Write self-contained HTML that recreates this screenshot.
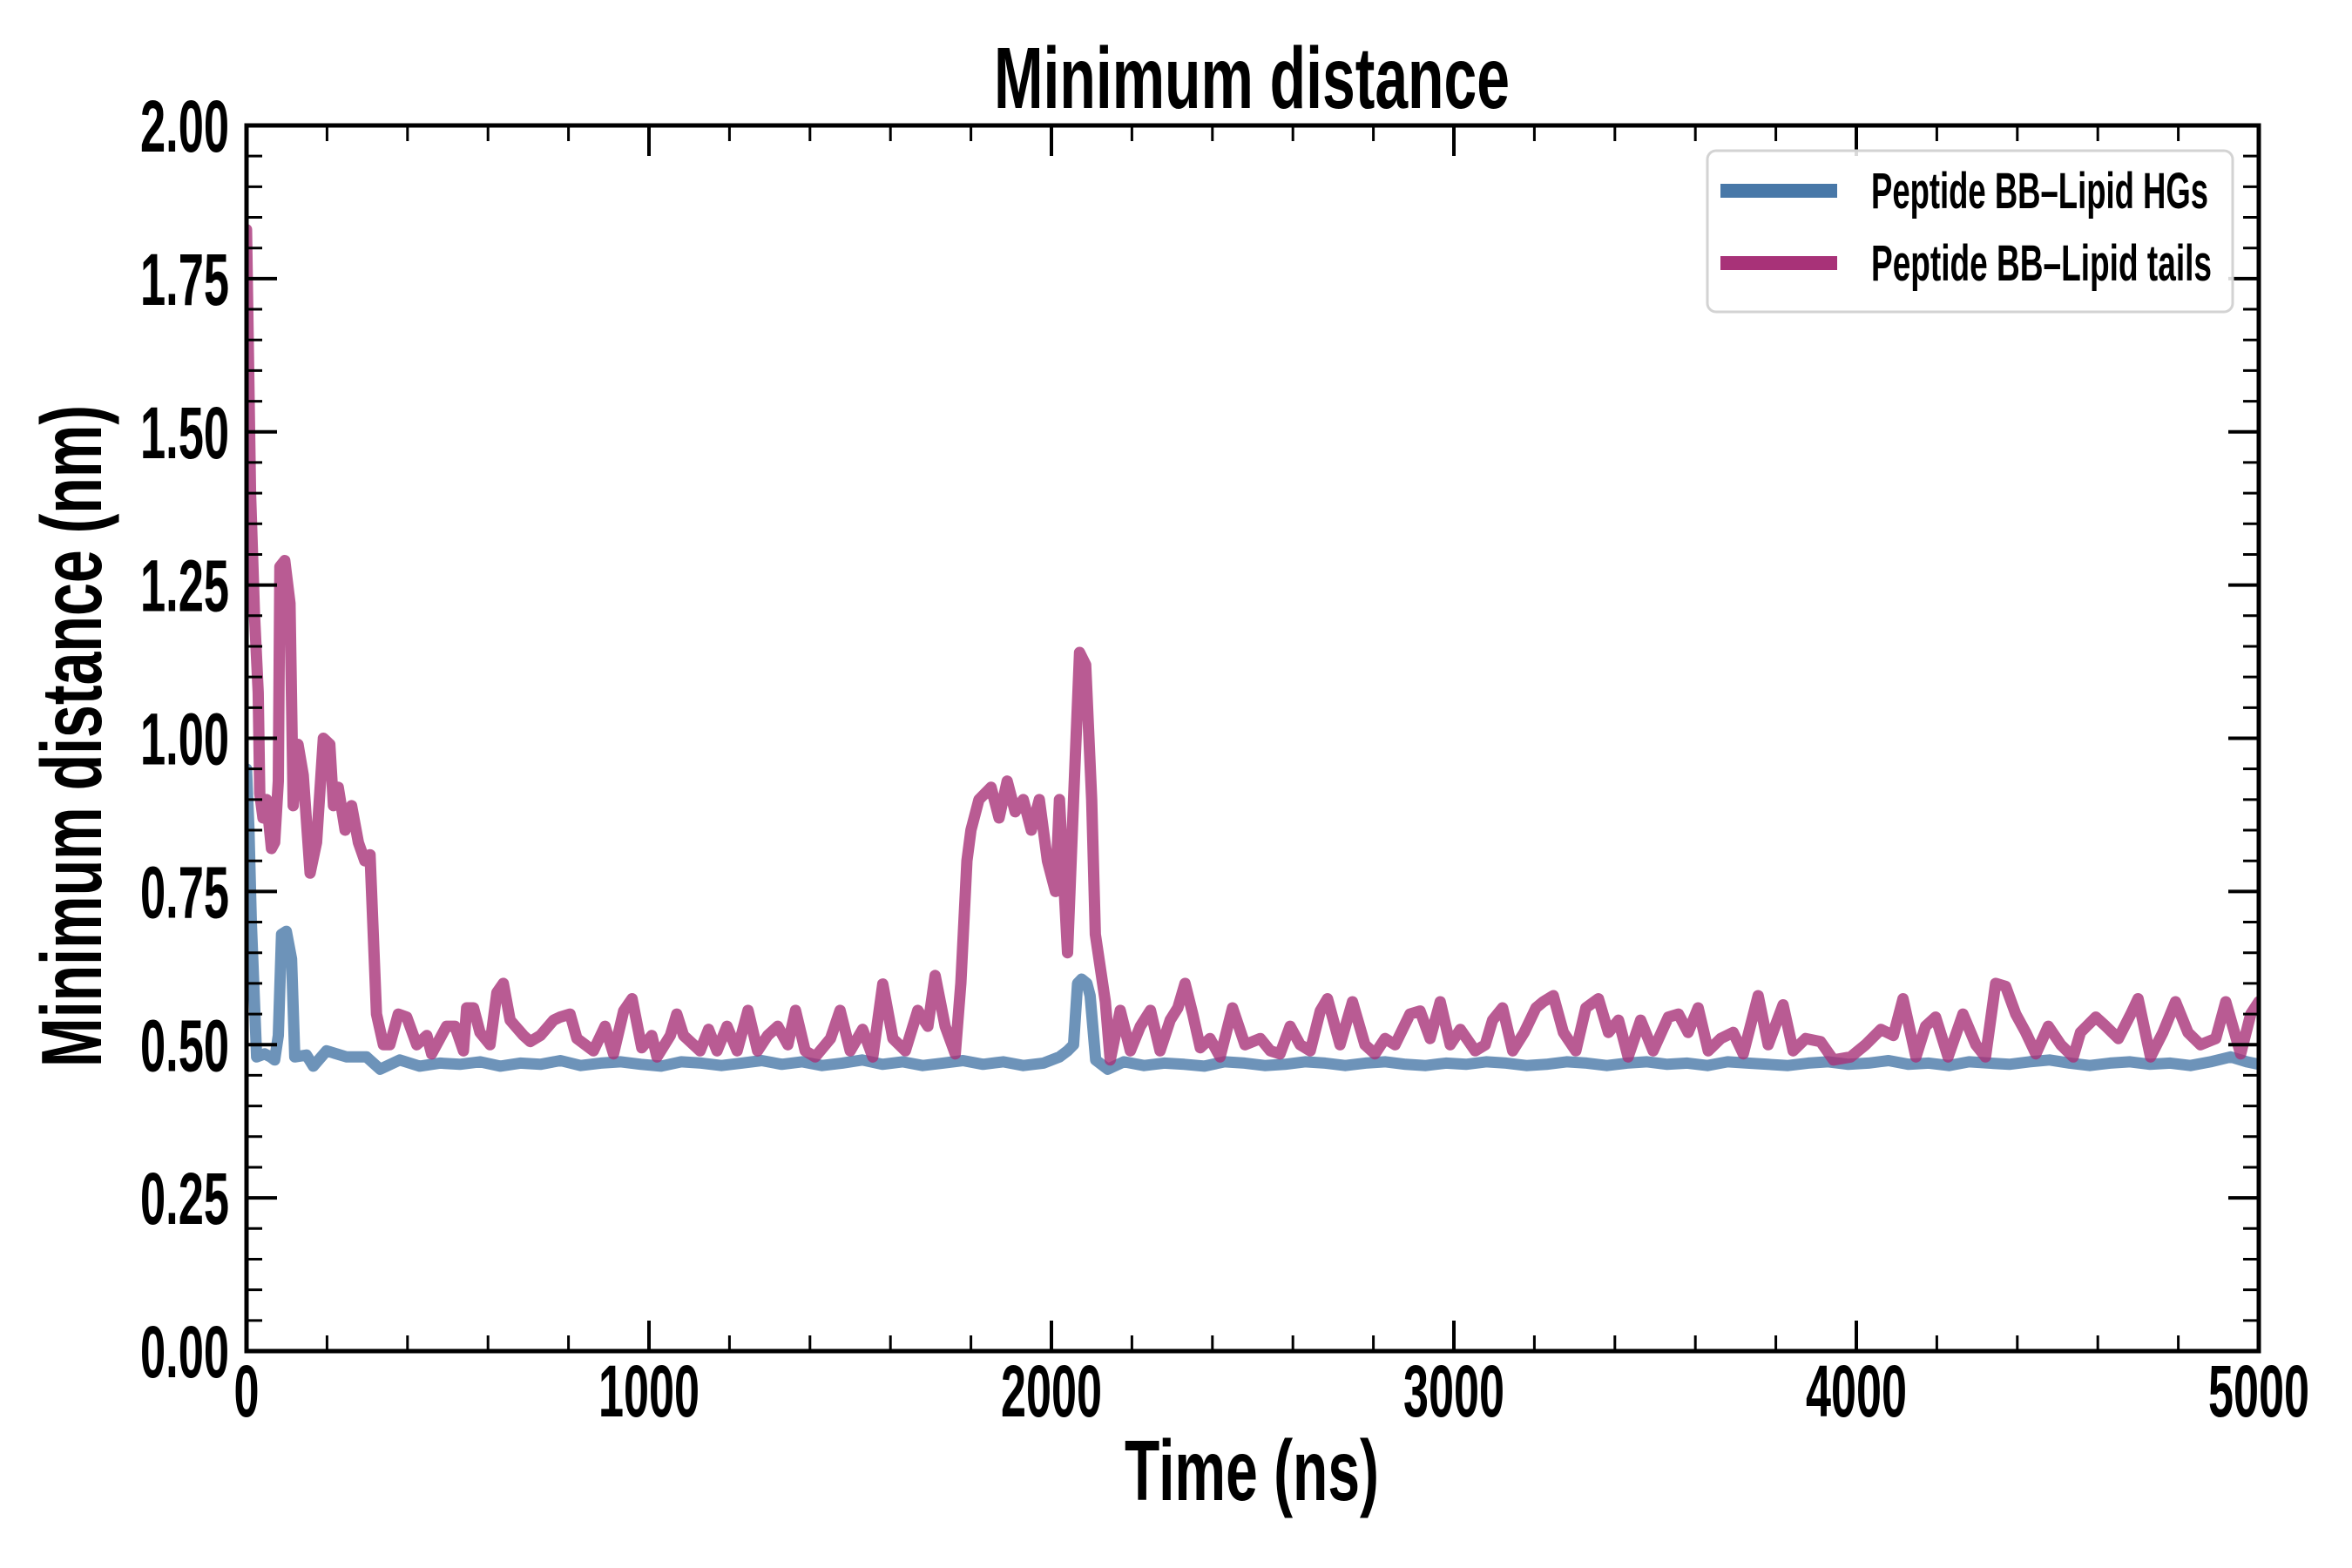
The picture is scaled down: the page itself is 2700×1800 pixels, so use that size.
<!DOCTYPE html>
<html><head><meta charset="utf-8"><style>html,body{margin:0;padding:0;background:#fff}svg{display:block}text{font-family:"Liberation Sans",sans-serif;font-weight:bold;fill:#000}</style></head>
<body>
<svg id="chart" width="2700" height="1800" viewBox="0 0 2700 1800" xmlns="http://www.w3.org/2000/svg">
<rect width="2700" height="1800" fill="#fff"/>
<g id="series"></g>
<g id="axes"></g>
<text x="1437" y="124" font-size="100" text-anchor="middle" textLength="592" lengthAdjust="spacingAndGlyphs">Minimum distance</text>
<text x="1437" y="1722" font-size="98" text-anchor="middle" textLength="292" lengthAdjust="spacingAndGlyphs">Time (ns)</text>
<text transform="translate(116,845) rotate(-90)" font-size="98" text-anchor="middle" textLength="760" lengthAdjust="spacingAndGlyphs">Minimum distance (nm)</text>
<g>
<rect x="1960" y="173" width="603" height="185" rx="10" fill="#fff" fill-opacity="0.85" stroke="#d3d3d3" stroke-width="3"/>
<line x1="1975" y1="219" x2="2109" y2="219" stroke="#4878a8" stroke-width="16"/>
<text x="2148" y="239" font-size="58" textLength="387" lengthAdjust="spacingAndGlyphs">Peptide BB–Lipid HGs</text>
<line x1="1975" y1="302" x2="2109" y2="302" stroke="#a83278" stroke-width="16"/>
<text x="2148" y="322" font-size="58" textLength="391" lengthAdjust="spacingAndGlyphs">Peptide BB–Lipid tails</text>
</g>
</svg>
<script>
const tailsT=[0,10,20,29,33,41,50,62,70,79,83,95,108,116,128,141,158,174,191,207,216,228,245,261,278,294,307,323,340,356,377,398,423,448,460,497,518,539,547,564,580,605,622,638,655,688,705,730,763,779,804,821,862,891,912,937,958,982,1007,1020,1053,1069,1086,1127,1148,1169,1194,1219,1246,1270,1295,1320,1345,1364,1388,1413,1451,1475,1500,1531,1556,1581,1606,1637,1668,1693,1711,1736,1761,1775,1790,1800,1820,1850,1870,1890,1910,1930,1950,1970,1990,2010,2020,2040,2055,2070,2085,2100,2109,2134,2146,2171,2196,2221,2246,2270,2295,2314,2332,2351,2370,2394,2419,2450,2481,2519,2544,2568,2593,2618,2643,2668,2686,2717,2748,2779,2804,2829,2854,2891,2916,2941,2966,2991,3016,3053,3078,3096,3121,3146,3175,3204,3222,3247,3272,3303,3328,3359,3384,3409,3433,3464,3495,3533,3558,3582,3607,3632,3663,3694,3719,3756,3781,3818,3843,3874,3911,3943,3986,4023,4061,4092,4116,4148,4172,4197,4228,4265,4297,4321,4346,4371,4396,4421,4446,4477,4508,4539,4557,4595,4620,4651,4682,4700,4731,4762,4793,4824,4855,4893,4918,4955,4980,5000];
const tailsV=[1.83,1.4,1.2,1.075,0.91,0.87,0.9,0.82,0.83,0.93,1.28,1.29,1.22,0.89,0.99,0.94,0.78,0.83,1.0,0.99,0.89,0.92,0.85,0.89,0.83,0.8,0.81,0.55,0.5,0.5,0.55,0.545,0.5,0.515,0.485,0.53,0.53,0.49,0.56,0.56,0.52,0.5,0.585,0.6,0.54,0.515,0.505,0.515,0.54,0.545,0.55,0.51,0.49,0.53,0.485,0.555,0.575,0.495,0.515,0.48,0.515,0.55,0.515,0.49,0.525,0.49,0.53,0.49,0.556,0.49,0.515,0.53,0.5,0.556,0.49,0.48,0.51,0.556,0.49,0.525,0.48,0.599,0.51,0.49,0.556,0.53,0.613,0.53,0.485,0.6,0.8,0.85,0.9,0.92,0.87,0.93,0.88,0.9,0.85,0.9,0.8,0.75,0.9,0.65,0.9,1.14,1.12,0.9,0.68,0.57,0.475,0.556,0.49,0.53,0.556,0.49,0.54,0.56,0.6,0.55,0.495,0.51,0.48,0.56,0.5,0.51,0.49,0.485,0.53,0.5,0.49,0.555,0.575,0.5,0.57,0.5,0.485,0.51,0.5,0.55,0.555,0.51,0.57,0.5,0.525,0.49,0.5,0.54,0.56,0.49,0.52,0.56,0.57,0.58,0.52,0.49,0.56,0.575,0.52,0.54,0.48,0.54,0.49,0.545,0.55,0.52,0.56,0.49,0.51,0.52,0.485,0.58,0.5,0.565,0.49,0.51,0.505,0.475,0.48,0.5,0.525,0.515,0.575,0.48,0.53,0.545,0.48,0.55,0.5,0.48,0.6,0.595,0.55,0.52,0.485,0.53,0.5,0.48,0.52,0.545,0.53,0.51,0.55,0.575,0.48,0.52,0.57,0.52,0.5,0.51,0.57,0.485,0.55,0.57];
const hgsT=[0,6,12,25,45,60,70,79,87,99,112,120,149,166,199,249,298,332,381,430,480,530,580,630,680,730,780,830,880,930,980,1030,1080,1130,1180,1230,1280,1330,1380,1430,1480,1530,1580,1630,1680,1730,1780,1830,1880,1930,1980,2020,2040,2055,2065,2075,2088,2096,2110,2140,2180,2230,2280,2330,2380,2430,2480,2530,2580,2630,2680,2730,2780,2830,2880,2930,2980,3030,3080,3130,3180,3230,3280,3330,3380,3430,3480,3530,3580,3630,3680,3730,3780,3830,3880,3930,3980,4030,4080,4130,4180,4230,4280,4330,4380,4430,4480,4530,4580,4630,4680,4730,4780,4830,4880,4930,4970,5000];
const hgsV=[0.95,0.85,0.7,0.48,0.485,0.48,0.475,0.515,0.68,0.685,0.64,0.48,0.483,0.465,0.49,0.48,0.48,0.46,0.475,0.465,0.47,0.468,0.472,0.465,0.47,0.468,0.474,0.466,0.47,0.472,0.468,0.465,0.472,0.47,0.466,0.47,0.474,0.468,0.472,0.466,0.47,0.475,0.468,0.472,0.466,0.47,0.474,0.468,0.472,0.466,0.47,0.48,0.49,0.5,0.6,0.607,0.6,0.58,0.475,0.46,0.472,0.466,0.47,0.468,0.465,0.472,0.47,0.466,0.468,0.472,0.47,0.466,0.47,0.472,0.468,0.466,0.47,0.468,0.472,0.47,0.466,0.468,0.472,0.47,0.466,0.47,0.472,0.468,0.47,0.466,0.472,0.47,0.468,0.466,0.47,0.472,0.468,0.47,0.474,0.468,0.47,0.466,0.472,0.47,0.468,0.472,0.475,0.47,0.466,0.47,0.472,0.468,0.47,0.466,0.472,0.48,0.472,0.468];
const xTickVals=[0,1000,2000,3000,4000,5000];
const xTickLabels=["0","1000","2000","3000","4000","5000"];
const yTickVals=[0,0.25,0.5,0.75,1.0,1.25,1.5,1.75,2.0];
const yTickLabels=["0.00","0.25","0.50","0.75","1.00","1.25","1.50","1.75","2.00"];

const L=283,R=2593,T=144,B=1551;
const xs=t=>L+(t/5000)*(R-L);
const ys=v=>B-(v/2)*(B-T);
const NS="http://www.w3.org/2000/svg";
const sg=document.getElementById('series'), ag=document.getElementById('axes');
function mk(tag,attrs,parent){const e=document.createElementNS(NS,tag);for(const k in attrs)e.setAttribute(k,attrs[k]);parent.appendChild(e);return e;}
function drawLine(T_,V_,color,name){
  const d=T_.map((t,i)=>(i?'L':'M')+xs(t).toFixed(1)+','+ys(V_[i]).toFixed(1)).join(' ');
  const p=mk('path',{d:d,fill:'none',stroke:color,'stroke-width':13,'stroke-opacity':0.8,'stroke-linejoin':'round','stroke-linecap':'round'},sg);
  
  
}
const cp=mk('clipPath',{id:'clip'},sg);mk('rect',{x:L,y:T,width:R-L,height:B-T},cp);
sg.setAttribute('clip-path','url(#clip)');
drawLine(hgsT,hgsV,'#4878a8','line-peptide-bb-lipid-hgs');
drawLine(tailsT,tailsV,'#a83278','line-peptide-bb-lipid-tails');

for(let t=0;t<=5000;t+=200){
  const x=xs(t), maj=(t%1000===0), len=maj?35:18, w=maj?4:3;
  const a=mk('line',{x1:x,y1:B,x2:x,y2:B-len,stroke:'#000','stroke-width':w},ag);
  
  
  const b=mk('line',{x1:x,y1:T,x2:x,y2:T+len,stroke:'#000','stroke-width':w},ag);
  
  
}
for(let i=0;i<=40;i++){
  const v=i*0.05, y=ys(v), maj=(i%5===0), len=maj?35:18, w=maj?4:3;
  const a=mk('line',{x1:L,y1:y,x2:L+len,y2:y,stroke:'#000','stroke-width':w},ag);
  
  
  const b=mk('line',{x1:R,y1:y,x2:R-len,y2:y,stroke:'#000','stroke-width':w},ag);
  
  
}
const fr=mk('rect',{x:L,y:T,width:R-L,height:B-T,fill:'none',stroke:'#000','stroke-width':5},ag);


xTickVals.forEach((t,i)=>{
  const lab=xTickLabels[i];
  const tx=mk('text',{x:xs(t),y:1626,'font-size':84,'text-anchor':'middle',textLength:lab.length*29,lengthAdjust:'spacingAndGlyphs'},ag);
  tx.textContent=lab;
  
  
});
yTickVals.forEach((v,i)=>{
  const lab=yTickLabels[i];
  const tx=mk('text',{x:263,y:ys(v)+30,'font-size':84,'text-anchor':'end',textLength:102,lengthAdjust:'spacingAndGlyphs'},ag);
  tx.textContent=lab;
  
  
});
</script>
</body></html>
